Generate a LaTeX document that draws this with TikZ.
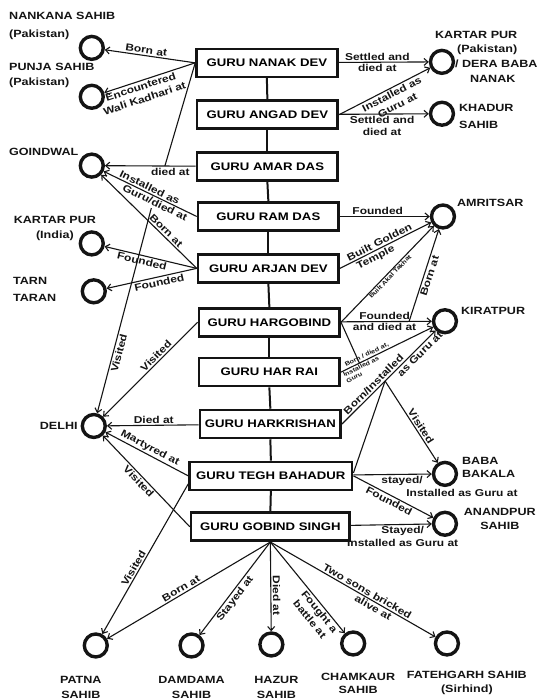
\documentclass[tikz,border=0pt]{standalone}
\usepackage{fontspec}
\setmainfont[FakeStretch=1.2]{Liberation Sans}
\usepackage{tikz}
\usetikzlibrary{arrows.meta, positioning, calc}
\definecolor{ChartInk}{HTML}{141414}

\begin{document}
\begin{tikzpicture}[
    x=1pt, y=-1pt,
    guru/.style={
      draw=ChartInk,
      line width=2.6pt,
      minimum width=141pt,
      minimum height=28pt,
      inner sep=2pt,
      font=\bfseries\fontsize{11}{13}\selectfont,
    },
    place/.style={circle, draw=ChartInk, line width=3.4pt, minimum size=23pt, inner sep=0pt},
    placename/.style={font=\bfseries\fontsize{10.5}{14}\selectfont, text=ChartInk, inner sep=1pt},
    link/.style={draw=ChartInk, line width=1.1pt, -{Straight Barb[length=4pt,width=7pt]}},
    joint/.style={draw=ChartInk, line width=1.1pt},
    spine/.style={draw=ChartInk, line width=2pt},
    lab/.style={font=\bfseries\fontsize{10}{12.5}\selectfont, text=ChartInk, align=center, inner sep=1.5pt},
    smalllab/.style={font=\bfseries\fontsize{6}{7}\selectfont, text=ChartInk, align=left, inner sep=1pt},
  ]
    \path[fill=white] (0,0) rectangle (545,700);

    % the ten Gurus
    \node[guru] (nanak) at (267.5,63) {GURU NANAK DEV};
    \node[guru] (angad) at (268,115) {GURU ANGAD DEV};
    \node[guru] (amardas) at (268,167) {GURU AMAR DAS};
    \node[guru] (ramdas) at (269,217) {GURU RAM DAS};
    \node[guru] (arjan) at (269,269) {GURU ARJAN DEV};
    \node[guru] (hargobind) at (270,323) {GURU HARGOBIND};
    \node[guru] (harrai) at (270,373) {GURU HAR RAI};
    \node[guru] (harkrishan) at (271,425) {GURU HARKRISHAN};
    \node[guru, minimum width=163pt] (tegh) at (271.5,477) {GURU TEGH BAHADUR};
    \node[guru, minimum width=159pt] (gobind) at (271,528) {GURU GOBIND SINGH};
    \foreach \a/\b in {nanak/angad, angad/amardas, amardas/ramdas, ramdas/arjan, arjan/hargobind,
                       hargobind/harrai, harrai/harkrishan, harkrishan/tegh, tegh/gobind}
      \draw[spine] (\a.south) -- (\b.north);

    % places
    \node[place] (nankana) at (92,48) {};
    \node[place] (punja) at (92,97) {};
    \node[place] (kartarpk) at (443,62) {};
    \node[place] (khadur) at (443,114) {};
    \node[place] (goindwal) at (92,166) {};
    \node[place] (kartarin) at (92,244) {};
    \node[place] (tarntaran) at (94,292) {};
    \node[place] (amritsar) at (444,217) {};
    \node[place] (kiratpur) at (446,322) {};
    \node[place] (delhi) at (94,427) {};
    \node[place] (bakala) at (446,475) {};
    \node[place] (anandpur) at (446,525) {};
    \node[place] (patna) at (96,647) {};
    \node[place] (damdama) at (192,647) {};
    \node[place] (hazur) at (272,646) {};
    \node[place] (chamkaur) at (354,645) {};
    \node[place] (fatehgarh) at (448,645) {};

    \node[placename, anchor=west, align=left] (nankananame) at (8,26) {NANKANA SAHIB\\[4pt](Pakistan)};
    \node[placename, anchor=west, align=left] (punjaname) at (8,75.5) {PUNJA SAHIB\\[1pt](Pakistan)};
    \node[placename, anchor=north west, align=left] (kartarpkname) at (435,30)
      {KARTAR PUR\\\hspace*{22pt}(Pakistan)\\[1pt]\hspace*{20pt}/ DERA BABA\\[1pt]\hspace*{35pt}NANAK};
    \node[placename, anchor=west, align=left] (khadurname) at (459,116.5) {KHADUR\\[3pt]SAHIB};
    \node[placename, anchor=west] (goindwalname) at (8,152) {GOINDWAL};
    \node[placename, align=center] (kartarinname) at (55,229.5) {KARTAR PUR\\[1pt](India)};
    \node[placename, anchor=west, align=left] (tarntaranname) at (12,290.5) {TARN\\[3pt]TARAN};
    \node[placename, anchor=west] (amritsarname) at (457,203) {AMRITSAR};
    \node[placename, anchor=west] (kiratpurname) at (461,312) {KIRATPUR};
    \node[placename, anchor=east] (delhiname) at (79,427) {DELHI};
    \node[placename, anchor=west, align=left] (bakalaname) at (462,468.5) {BABA\\[-1pt]BAKALA};
    \node[placename, align=center] (anandpurname) at (501,520) {ANANDPUR\\SAHIB};
    \node[placename, align=center] (patnaname) at (81,689.5) {PATNA\\[1pt]SAHIB};
    \node[placename, align=center] (damdamaname) at (192,689.5) {DAMDAMA\\[1pt]SAHIB};
    \node[placename, align=center] (hazurname) at (277,689.5) {HAZUR\\[1pt]SAHIB};
    \node[placename, align=center] (chamkaurname) at (359,685) {CHAMKAUR\\SAHIB};
    \node[placename, align=center] (fatehgarhname) at (468,685) {FATEHGARH SAHIB\\(Sirhind)};

    % Guru Nanak Dev and Guru Angad Dev
    \draw[link] (nanak.west) -- node[lab, sloped, above, pos=0.55] {Born at} (nankana);
    \draw[link] (nanak.west) -- node[lab, sloped, below, pos=0.62] {Encountered\\Wali Kadhari at} (punja);
    \draw[link] (nanak) -- node[lab, above, pos=0.43] {Settled and} node[lab, below, pos=0.43] {died at} (kartarpk);
    \draw[link] (angad.east) -- node[lab, sloped, below, pos=0.55] {Installed as\\Guru at} (kartarpk);
    \draw[link] (angad) -- node[lab, below, pos=0.48] {Settled and\\died at} (khadur);

    % Goindwal
    \draw[link] (amardas) -- node[lab, below, pos=0.28] {died at} coordinate[pos=0.34] (jgoind) (goindwal);
    \draw[joint] (nanak.west) -- (jgoind);
    \draw[link] (ramdas.west) -- node[lab, sloped, above, pos=0.53] {Installed as}
      node[lab, sloped, below, pos=0.42] {Guru/died at} (goindwal);
    \draw[link] (arjan.west) -- node[lab, sloped, above, pos=0.36] {Born at} coordinate[pos=0.51] (jarjan) (goindwal);

    % Guru Ram Das and Guru Arjan Dev
    \draw[link] (ramdas) -- node[lab, above, pos=0.42] {Founded} (amritsar);
    \draw[link] (arjan.west) -- node[lab, sloped, below, pos=0.58] {Founded} (kartarin);
    \draw[link] (arjan.west) -- node[lab, sloped, below, pos=0.43] {Founded} (tarntaran);
    \draw[link] (arjan.east) -- node[lab, sloped, above, pos=0.46] {Built Golden}
      node[lab, sloped, below, pos=0.36] {Temple} (amritsar);
    \draw[link] ($(jarjan)!-13pt!(delhi)$) -- node[lab, sloped, below, pos=0.7] {Visited} (delhi);

    % Guru Hargobind and Guru Har Rai
    \draw[link] (hargobind.east) -- node[smalllab, sloped, below, pos=0.5] {Built Akal Takhat} (amritsar);
    \draw[link] (hargobind) -- node[lab, above, pos=0.48] {Founded} node[lab, below, pos=0.48] {and died at}
      coordinate[pos=0.75] (jamrit) (kiratpur);
    \draw[link] (jamrit) -- node[lab, sloped, below, pos=0.51] {Born at} (amritsar);
    \draw[link] (hargobind.west) -- node[lab, sloped, above, pos=0.4] {Visited} (delhi);
    \draw[link] (harrai.east) -- node[smalllab, sloped, above, pos=0.3] {Born / died at,}
      node[smalllab, sloped, below, pos=0.2] {Installed as\\Guru} coordinate[pos=0.2] (jharrai) (kiratpur);
    \draw[joint] (hargobind.east) -- (jharrai);

    % Guru Harkrishan and Guru Tegh Bahadur
    \draw[link] (harkrishan) -- node[lab, above, pos=0.49] {Died at} (delhi);
    \draw[link] (harkrishan.east) -- node[lab, sloped, above, pos=0.38] {Born/Installed}
      node[lab, sloped, below, pos=0.79] {as Guru at} coordinate[pos=0.46] (jvisit) (kiratpur);
    \draw[joint] ([yshift=3pt]tegh.east) -- (jvisit);
    \draw[link] (jvisit) -- node[lab, sloped, above, pos=0.59] {Visited} (bakala);
    \draw[link] (tegh) -- node[lab, below, pos=0.62] {stayed/}
      node[lab, anchor=north west, pos=0.65, yshift=-13pt] {Installed as Guru at} (bakala);
    \draw[link] (tegh.east) -- node[lab, sloped, below, pos=0.48] {Founded} (anandpur);
    \draw[link] (tegh.west) -- node[lab, sloped, above, pos=0.5] {Martyred at} (delhi);
    \draw[link] ([yshift=-8pt]tegh.west) -- node[lab, sloped, above, pos=0.58] {Visited} (patna);

    % Guru Gobind Singh
    \draw[link] (gobind) -- node[lab, below, pos=0.64] {Stayed/\\Installed as Guru at} (anandpur);
    \draw[link] (gobind.west) -- node[lab, sloped, below, pos=0.54] {Visited} (delhi);
    \draw[link] (gobind.south) -- node[lab, sloped, above, pos=0.53] {Born at} (patna);
    \draw[link] (gobind.south) -- node[lab, sloped, below, pos=0.57] {Stayed at} (damdama);
    \draw[link] (gobind.south) -- node[lab, sloped, above, pos=0.6] {Died at} (hazur);
    \draw[link] (gobind.south) -- node[lab, sloped, below, pos=0.72] {Fought a\\battle at} (chamkaur);
    \draw[link] (gobind.south) -- node[lab, sloped, above, pos=0.57] {Two sons bricked}
      node[lab, sloped, below, pos=0.64] {alive at} (fatehgarh);
  \end{tikzpicture}
\end{document}
